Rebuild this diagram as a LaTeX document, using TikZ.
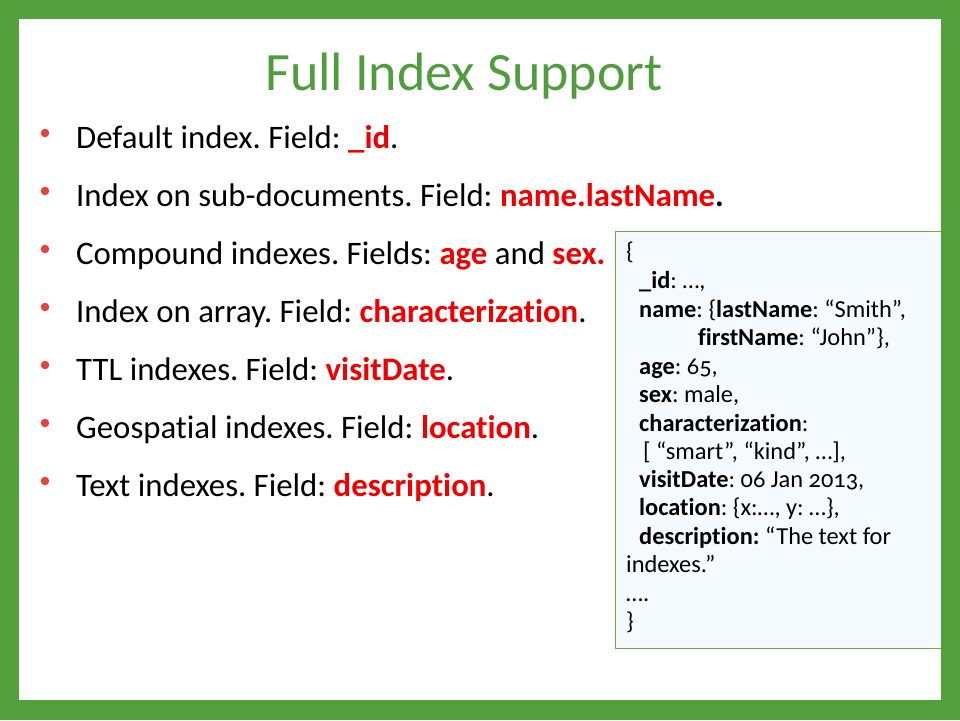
\documentclass[tikz,border=0pt]{standalone}
\usepackage{fontspec}
\setmainfont[Ligatures={NoCommon}]{Carlito}
\newfontfamily\boxfont[Numbers=OldStyle,Ligatures={NoCommon}]{Carlito}
\definecolor{frame}{RGB}{84,160,60}
\definecolor{titlegreen}{RGB}{80,156,62}
\definecolor{hot}{RGB}{240,0,0}
\definecolor{dot}{RGB}{232,64,58}
\definecolor{boxfill}{RGB}{245,250,255}
\definecolor{boxline}{RGB}{120,160,80}
\frenchspacing
\begin{document}
\begin{tikzpicture}[x=1pt,y=-1pt,
  bul/.style={anchor=base west,inner sep=0pt,font=\fontsize{32.8}{38}\selectfont},
  dotmark/.style={circle,fill=dot,inner sep=0pt,minimum size=8.5pt},
  jl/.style={anchor=base west,inner sep=0pt,font=\boxfont\fontsize{24.4}{28}\selectfont}]
\useasboundingbox (0,0) rectangle (960,720);
\fill[frame] (0,0) rectangle (960,720);
\fill[white] (19,19) rectangle (941,700);
\node[anchor=base,inner sep=0pt,text=titlegreen,font=\fontsize{54}{60}\selectfont] (title) at (464,90) {Full Index Support};
% bullets
\foreach \i/\yy in {1/148,2/206,3/264,4/322,5/380,6/438,7/496}{
  \node[dotmark] (d\i) at (45,\yy-15) {};
}
\node[bul] (b1) at (76,148) {Default index. Field: \textcolor{hot}{\bfseries \_id}.};
\node[bul] (b2) at (76,206) {Index on sub-documents. Field: \textcolor{hot}{\bfseries name.lastName}\textbf{.}};
\node[bul] (b3) at (76,264) {Compound indexes. Fields: \textcolor{hot}{\bfseries age} and \textcolor{hot}{\bfseries sex.}};
\node[bul] (b4) at (76,322) {Index on array. Field: \textcolor{hot}{\bfseries characterization}.};
\node[bul] (b5) at (76,380) {TTL indexes. Field: \textcolor{hot}{\bfseries visitDate}.};
\node[bul] (b6) at (76,438) {Geospatial indexes. Field: \textcolor{hot}{\bfseries location}.};
\node[bul] (b7) at (76,496) {Text indexes. Field: \textcolor{hot}{\bfseries description}.};
% json box
\draw[boxline,fill=boxfill,line width=1pt] (615,231) rectangle (945,648);
\node[jl] (j1) at (626,259) {\{};
\node[jl] (j2) at (639,288) {\textbf{\_id}: \dots,};
\node[jl] (j3) at (639,317) {\textbf{name}: \{\textbf{lastName}: “Smith”,};
\node[jl] (j4) at (698,345) {\textbf{firstName}: “John”\},};
\node[jl] (j5) at (639,374) {\textbf{age}: 65,};
\node[jl] (j6) at (639,402) {\textbf{sex}: male,};
\node[jl] (j7) at (639,431) {\textbf{characterization}:};
\node[jl] (j8) at (643,459) {[ “smart”, “kind”, \dots],};
\node[jl] (j9) at (639,487) {\textbf{visitDate}: 06 Jan 2013,};
\node[jl] (j10) at (639,515) {\textbf{location}: \{x:\dots, y: \dots\},};
\node[jl] (j11) at (639,544) {\textbf{description:} “The text for};
\node[jl] (j12) at (626,572) {indexes.”};
\node[jl] (j13) at (626,601) {\dots.};
\node[jl] (j14) at (626,629) {\}};
\fill[frame] (941,0) rectangle (960,720);
\end{tikzpicture}
\end{document}
